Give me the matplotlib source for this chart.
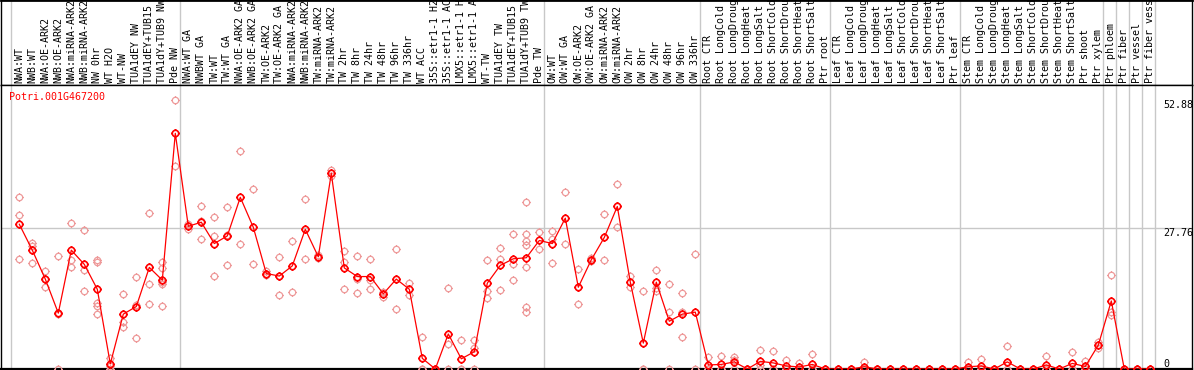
import matplotlib
matplotlib.use("Agg")
import matplotlib.pyplot as plt
from matplotlib.path import Path

gene = "Potri.001G467200"

labels = [
    "NWA:WT", "NWB:WT", "NWA:OE-ARK2", "NWB:OE-ARK2", "NWA:miRNA-ARK2", "NWB:miRNA-ARK2",
    "NW 0hr", "WT H2O", "WT-NW", "TUA1dEY NW", "TUA1dEY+TUB15 NW", "TUA1dY+TUB9 NW", "Pde NW",
    "NWA:WT GA", "NWBWT GA", "TW:WT", "TW:WT GA", "NWA:OE-ARK2 GA", "NWB:OE-ARK2 GA",
    "TW:OE-ARK2", "TW:OE-ARK2 GA", "NWA:miRNA-ARK2", "NWB:miRNA-ARK2", "TW:miRNA-ARK2",
    "TW:miRNA-ARK2", "TW 2hr", "TW 8hr", "TW 24hr", "TW 48hr", "TW 96hr", "TW 336hr",
    "WT ACC", "35S::etr1-1 H2O", "35S::etr1-1 ACC", "LMX5::etr1-1 H2O", "LMX5::etr1-1 ACC",
    "WT-TW", "TUA1dEY TW", "TUA1dEY+TUB15 TW", "TUA1dY+TUB9 TW", "Pde TW",
    "OW:WT", "OW:WT GA", "OW:OE-ARK2", "OW:OE-ARK2 GA", "OW:miRNA-ARK2", "OW:miRNA-ARK2",
    "OW 2hr", "OW 8hr", "OW 24hr", "OW 48hr", "OW 96hr", "OW 336hr",
    "Root CTR", "Root LongCold", "Root LongDrought", "Root LongHeat", "Root LongSalt",
    "Root ShortCold", "Root ShortDrought", "Root ShortHeat", "Root ShortSalt", "Ptr root",
    "Leaf CTR", "Leaf LongCold", "Leaf LongDrought", "Leaf LongHeat", "Leaf LongSalt",
    "Leaf ShortCold", "Leaf ShortDrought", "Leaf ShortHeat", "Leaf ShortSalt", "Ptr leaf",
    "Stem CTR", "Stem LongCold", "Stem LongDrought", "Stem LongHeat", "Stem LongSalt",
    "Stem ShortCold", "Stem ShortDrought", "Stem ShortHeat", "Stem ShortSalt", "Ptr shoot",
    "Ptr xylem", "Ptr phloem", "Ptr fiber", "Ptr vessel", "Ptr fiber vessel",
]

means = [
    28.5, 23.4, 17.7, 11.0, 23.4, 20.6, 15.7, 1.0, 10.8, 12.3, 20.0, 17.5, 46.4,
    28.1, 28.9, 24.7, 26.2, 33.8, 27.9, 18.8, 18.3, 20.3, 27.5, 22.1, 38.5, 19.9, 18.2,
    18.2, 14.8, 17.7, 15.7, 2.1, 0.0, 6.9, 2.0, 3.4, 16.9, 20.4, 21.7, 21.9, 25.3,
    24.7, 29.7, 16.1, 21.5, 25.9, 32.0, 17.1, 5.1, 17.1, 9.4, 10.8, 11.2,
    0.8, 0.9, 1.4, 0.0, 1.5, 1.2, 0.6, 0.4, 0.9, 0.0,
    0.0, 0.0, 0.45, 0.0, 0.0, 0.0, 0.0, 0.0, 0.0, 0.0,
    0.45, 0.6, 0.0, 1.4, 0.0, 0.0, 0.8, 0.0, 1.1, 0.5,
    4.7, 13.4, 0.0, 0.0, 0.0,
]

reps = [
    [33.8, 30.3, 21.7], [24.9, 24.3, 20.8], [19.3, 17.7, 16.1], [22.2, 10.8, 0.0],
    [28.7, 21.5, 20.1], [27.3, 19.4, 15.4], [21.5, 21.1, 12.9, 12.5, 10.8], [2.2, 0.5, 0.0],
    [14.8, 9.2, 8.3], [18.1, 12.6, 6.2], [30.7, 16.7, 12.7], [21.1, 19.8, 17.2, 16.7, 12.4],
    [52.88, 39.9],
    [28.6, 27.6], [32.1, 29.1, 25.5], [29.9, 26.1, 18.3], [31.8, 26.4, 20.4], [42.9, 24.6],
    [35.4, 20.6], [19.2, 18.8, 18.5], [22.0, 18.3, 14.6], [25.2, 15.2], [33.5, 21.7],
    [22.4, 21.8], [39.2, 37.9], [23.2, 21.1, 15.7], [22.2, 17.7, 14.9], [21.7, 17.6, 15.7],
    [15.2, 14.8, 14.2], [23.6, 11.8], [16.9, 14.6], [6.3, 0.0, 0.0], [0.0, 0.0, 0.0],
    [15.9, 4.9, 0.0], [5.8, 0.0, 0.0], [5.8, 4.1, 0.0], [21.5, 15.4, 13.9],
    [23.8, 21.7, 15.6], [26.6, 20.7, 17.5], [32.9, 26.6, 25.2, 24.4, 20.0, 12.3, 11.3],
    [27.0, 23.6],
    [27.2, 25.5, 20.8], [34.8, 24.7], [19.7, 12.8], [21.8, 21.2], [30.5, 21.5], [36.4, 27.9],
    [18.3, 16.1], [15.4, 0.0, 0.0], [19.4, 15.9, 15.4], [16.7, 11.3, 0.0], [14.9, 11.2, 6.3],
    [22.6, 0.0],
    [2.4, 0.0, 0.0], [2.6, 0.0, 0.0], [2.4, 1.8, 0.0], [0.0, 0.0, 0.0], [3.7, 0.8, 0.0],
    [3.5, 0.0, 0.0], [1.8, 0.0, 0.0], [1.1, 0.0, 0.0], [2.9, 0.0, 0.0], [0.0, 0.0, 0.0],
    [0.0, 0.0, 0.0], [0.0, 0.0, 0.0], [1.4, 0.0, 0.0], [0.0, 0.0, 0.0], [0.0, 0.0, 0.0],
    [0.0, 0.0, 0.0], [0.0, 0.0, 0.0], [0.0, 0.0, 0.0], [0.0, 0.0, 0.0], [0.0, 0.0, 0.0],
    [1.4, 0.0, 0.0], [2.0, 0.0, 0.0], [0.0, 0.0, 0.0], [4.5, 0.0, 0.0], [0.0, 0.0, 0.0],
    [0.0, 0.0, 0.0], [2.6, 0.0, 0.0], [0.0, 0.0, 0.0], [3.4, 0.0, 0.0], [1.6, 0.0, 0.0],
    [5.4, 4.1], [18.6, 11.3, 10.6], [0.0, 0.0, 0.0], [0.0, 0.0, 0.0], [0.0, 0.0, 0.0],
]

# first column of each block (last entry closes the final block)
group_starts = [0, 13, 41, 53, 63, 73, 84, 85, 86, 87, 88]
ref_values = [0, 27.76, 52.88]

MONO = "DejaVu Sans Mono"
RED = "#FF0000"
PINK = "#EE9A9A"
GRID = "#C8C8C8"

# circle with small stubs, like the original sprite
circle = Path.unit_circle()
stubs = Path([(0, 1), (0, 1.35), (0, -1), (0, -1.35), (1, 0), (1.35, 0), (-1, 0), (-1.35, 0)],
             [Path.MOVETO, Path.LINETO] * 4)
marker = Path.make_compound_path(circle, stubs)

W, H = 1194, 370
fig = plt.figure(figsize=(W / 100, H / 100), dpi=100)
left, right, head, bottom = 0.5, 1192, 85, 369
ax_h = fig.add_axes([left / W, 1 - head / H, (right - left) / W, head / H])
ax = fig.add_axes([left / W, 1 - bottom / H, (right - left) / W, (bottom - head) / H], sharex=ax_h)

x0, step = 19.3, 13.0
ax.set_xlim((left - x0) / step, (right - x0) / step)
ax.set_ylim(0, 27.76 * (bottom - head) / 141)

x = list(range(len(labels)))
for i, rs in enumerate(reps):
    ax.plot([i] * len(rs), rs, linestyle="none", marker=marker, ms=6.2,
            mfc="none", mec=PINK, mew=0.9, zorder=3)
ax.plot(x, means, color=RED, lw=0.9, zorder=4)
ax.plot(x, means, linestyle="none", marker=marker, ms=6.2, mfc="none",
        mec=RED, mew=1.2, zorder=5)

ax.axhline(27.76, color=GRID, lw=1.0, zorder=1)
for g in group_starts:
    ax.axvline(g - 0.64, color=GRID, lw=1.0, zorder=1)
    ax_h.axvline(g - 0.64, color=GRID, lw=1.0, zorder=1)

for i, lab in enumerate(labels):
    ax_h.text(i, 2 / head, lab, rotation=90, ha="center", va="bottom",
              fontsize=7.2, family=MONO, transform=ax_h.get_xaxis_transform(), clip_on=True)

for v in ref_values:
    ax.text(0.9756, v, f"{v:g}" if v == 0 else f"{v:.2f}", transform=ax.get_yaxis_transform(),
            ha="left", va="bottom" if v == 0 else "top", fontsize=7.2, family=MONO)

ax.text(0.0075, 0.957, gene, transform=ax.transAxes, color=RED, fontsize=7.2,
        family=MONO, ha="left", va="center")

for a in (ax, ax_h):
    a.set_xticks([])
    a.set_yticks([])
    for s in a.spines.values():
        s.set_color("black")
        s.set_linewidth(1.0)
ax.spines["bottom"].set_linewidth(1.6)
ax_h.spines["top"].set_linewidth(2.0)

fig.savefig("out.png", dpi=100)
